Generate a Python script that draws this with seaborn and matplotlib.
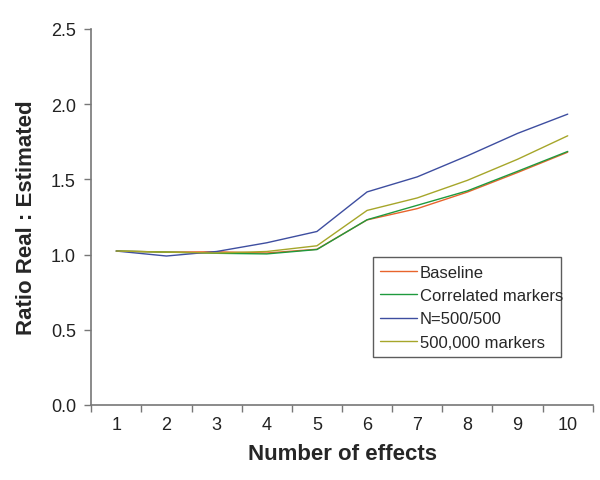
import seaborn as sns
import matplotlib.pyplot as plt
import pandas as pd

effects = [1, 2, 3, 4, 5, 6, 7, 8, 9, 10]
baseline = [1.023, 1.016, 1.018, 1.010, 1.035, 1.230, 1.305, 1.415, 1.545, 1.680]
correlated = [1.023, 1.016, 1.008, 1.004, 1.033, 1.231, 1.327, 1.423, 1.553, 1.685]
n500 = [1.023, 0.990, 1.020, 1.078, 1.153, 1.416, 1.516, 1.656, 1.805, 1.933]
markers500k = [1.023, 1.016, 1.010, 1.020, 1.058, 1.293, 1.376, 1.493, 1.633, 1.789]

series_names = ["Baseline", "Correlated markers", "N=500/500", "500,000 markers"]
colors = ["#E8642C", "#1F9A3E", "#3E4EA0", "#A6A62A"]

df = pd.DataFrame({
    "effects": effects * 4,
    "ratio": baseline + correlated + n500 + markers500k,
    "series": [s for s in series_names for _ in effects],
})

sns.set_style("white")
plt.rcParams["font.family"] = ["Liberation Sans", "DejaVu Sans"]

fig = plt.figure(figsize=(6.0, 4.81), dpi=100)
ax = fig.add_axes([0.152, 0.156, 0.836, 0.782])

sns.lineplot(data=df, x="effects", y="ratio", hue="series", hue_order=series_names,
             palette=colors, linewidth=1.0, ax=ax)

ax.set_xlim(0.5, 10.5)
ax.set_ylim(0, 2.5)
ax.set_xticks([x + 0.5 for x in range(0, 11)])
ax.set_xticklabels([])
ax.set_xticks(effects, minor=True)
ax.set_xticklabels([str(e) for e in effects], minor=True, fontsize=13, color="#222222")
ax.tick_params(axis="x", which="major", direction="out", length=5, width=1, color="#777777", bottom=True)
ax.tick_params(axis="x", which="minor", length=0, pad=8)
ax.set_yticks([0, 0.5, 1.0, 1.5, 2.0, 2.5])
ax.set_yticklabels(["0.0", "0.5", "1.0", "1.5", "2.0", "2.5"], fontsize=13, color="#222222")
ax.tick_params(axis="y", direction="out", length=5, width=1, color="#777777", left=True, pad=6)

for side in ["top", "right"]:
    ax.spines[side].set_visible(False)
for side in ["left", "bottom"]:
    ax.spines[side].set_color("#777777")
    ax.spines[side].set_linewidth(1.2)

ax.set_xlabel("Number of effects", fontsize=16, fontweight="bold", labelpad=7)
ax.set_ylabel("Ratio Real : Estimated", fontsize=16, fontweight="bold", labelpad=10)

leg = ax.legend(loc="lower left", bbox_to_anchor=(0.561, 0.127, 0.375, 0.287), mode="expand",
                fontsize=12, frameon=True, fancybox=False, handlelength=2.2,
                handletextpad=0.2, borderaxespad=0, labelspacing=0.5, borderpad=0.45)
leg.get_frame().set_edgecolor("#333333")
leg.get_frame().set_linewidth(1.0)

fig.savefig("out.png", dpi=100, facecolor="white")
